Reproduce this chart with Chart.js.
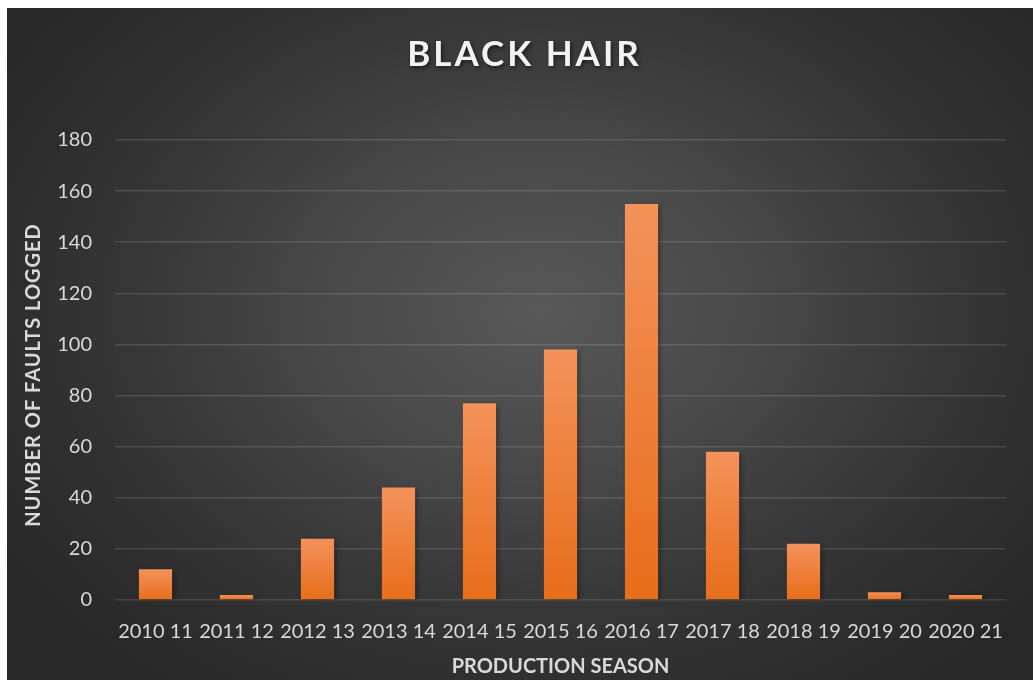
<!DOCTYPE html>
<html>
<head>
<meta charset="utf-8">
<script src="https://cdn.jsdelivr.net/npm/chart.js@4/dist/chart.umd.min.js"></script>
<style>
  html, body { margin: 0; padding: 0; background: #ffffff; }
  #wrap { position: absolute; left: 7px; top: 8px; width: 1026px; height: 672px;
    background: radial-gradient(ellipse 62% 70% at 52% 45%, #585858 0%, #484848 35%, #363636 65%, #272727 100%); }
  canvas { display: block; }
</style>
</head>
<body>
<div id="wrap"><canvas id="c" width="1026" height="672"></canvas></div>
<script>
const categories = ["2010 11","2011 12","2012 13","2013 14","2014 15","2015 16","2016 17","2017 18","2018 19","2019 20","2020 21"];
const faults = [12, 2, 24, 44, 77, 98, 155, 58, 22, 3, 2];
const yTicks = [0, 20, 40, 60, 80, 100, 120, 140, 160, 180];
const chartTitle = "BLACK HAIR";
const xTitle = "PRODUCTION SEASON";
const yTitle = "NUMBER OF FAULTS LOGGED";

const FONT = "Lato, 'Open Sans', sans-serif";
const TEXT = "#d9d9d9";

const decor = {
  id: 'decor',
  afterInit(chart) {
    const tb = chart.titleBlock;
    if (tb) {
      const orig = tb.draw.bind(tb);
      tb.draw = function () {
        const ctx = chart.ctx;
        ctx.save();
        ctx.translate(18, 0);
        ctx.letterSpacing = '3px';
        ctx.shadowColor = 'rgba(0,0,0,0.55)';
        ctx.shadowBlur = 4;
        ctx.shadowOffsetX = 1.5;
        ctx.shadowOffsetY = 2;
        orig();
        ctx.restore();
      };
    }
  },
  beforeDraw(chart) {
    const ys = chart.scales.y;
    if (ys && !ys._lsPatched) {
      const origT = ys.drawTitle.bind(ys);
      ys.drawTitle = function () {
        const ctx = chart.ctx;
        ctx.save();
        ctx.translate(0, 5);
        ctx.letterSpacing = '1px';
        origT();
        ctx.restore();
      };
      ys._lsPatched = true;
    }
  },
  beforeDatasetsDraw(chart) {
    const ctx = chart.ctx;
    ctx.save();
    ctx.shadowColor = 'rgba(0,0,0,0.45)';
    ctx.shadowBlur = 5;
    ctx.shadowOffsetX = 2;
    ctx.shadowOffsetY = 2;
  },
  afterDatasetsDraw(chart) {
    chart.ctx.restore();
  }
};

function barFill(context) {
  const chart = context.chart;
  const ys = chart.scales && chart.scales.y;
  if (!chart.chartArea || !ys || context.raw == null) return '#EE7B30';
  const top = ys.getPixelForValue(context.raw);
  const bottom = ys.getPixelForValue(0);
  if (!isFinite(top) || !isFinite(bottom) || bottom - top < 0.5) return '#EE7B30';
  const g = chart.ctx.createLinearGradient(0, top, 0, bottom);
  g.addColorStop(0, '#F4925A');
  g.addColorStop(1, '#E76D1A');
  return g;
}

new Chart(document.getElementById('c'), {
  type: 'bar',
  data: {
    labels: categories,
    datasets: [{
      label: 'Faults',
      data: faults,
      backgroundColor: barFill,
      borderWidth: 0,
      barPercentage: 0.41,
      categoryPercentage: 1.0
    }]
  },
  plugins: [decor],
  options: {
    responsive: false,
    animation: false,
    devicePixelRatio: 1,
    layout: { padding: { left: 0, right: 27, top: 0, bottom: 0 } },
    plugins: {
      legend: { display: false },
      tooltip: { enabled: false },
      title: {
        display: true,
        text: chartTitle,
        color: '#f2f2f2',
        font: { family: FONT, size: 35, weight: 'bold', lineHeight: 1.2 },
        padding: { top: 26, bottom: 64 }
      }
    },
    scales: {
      x: {
        grid: { display: false, drawTicks: false },
        border: { display: false },
        ticks: { color: TEXT, font: { family: FONT, size: 20 }, padding: 20, maxRotation: 0, autoSkip: false },
        title: { display: true, text: xTitle, color: TEXT, font: { family: FONT, size: 20, weight: 'bold', lineHeight: 1.2 }, padding: { top: 0, bottom: 1 } },
        afterFit(scale) { scale.height = 80; }
      },
      y: {
        min: 0,
        max: 180,
        afterBuildTicks(scale) { scale.ticks = yTicks.map(v => ({ value: v })); },
        grid: { color: 'rgba(255,255,255,0.13)', lineWidth: 1.5, drawTicks: false },
        border: { display: false },
        ticks: { color: TEXT, font: { family: FONT, size: 20 }, padding: 23 },
        title: { display: true, text: yTitle, color: TEXT, font: { family: FONT, size: 20, weight: 'bold', lineHeight: 1.2 }, padding: { top: 15, bottom: 0 } },
        afterFit(scale) { scale.width = 108; }
      }
    }
  }
});
</script>
</body>
</html>
